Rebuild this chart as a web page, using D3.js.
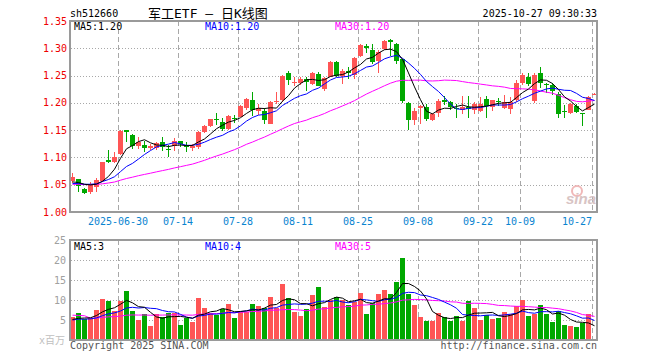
<!DOCTYPE html>
<html><head><meta charset="utf-8">
<script src="https://cdn.jsdelivr.net/npm/d3@7"></script>
<style>body{margin:0;background:#fff}svg{display:block}</style>
</head><body><svg id="c" width="660" height="360"></svg>
<script>
// ---------- data ----------
const dates = ["06-18","06-19","06-20","06-23","06-24","06-25","06-26","06-27","06-30","07-01","07-02","07-03","07-04","07-07","07-08","07-09","07-10","07-11","07-14","07-15","07-16","07-17","07-18","07-21","07-22","07-23","07-24","07-25","07-28","07-29","07-30","07-31","08-01","08-04","08-05","08-06","08-07","08-08","08-11","08-12","08-13","08-14","08-15","08-18","08-19","08-20","08-21","08-22","08-25","08-26","08-27","08-28","08-29","09-01","09-02","09-03","09-04","09-05","09-08","09-09","09-10","09-11","09-12","09-15","09-16","09-17","09-18","09-19","09-22","09-23","09-24","09-25","09-26","09-29","09-30","10-09","10-10","10-13","10-14","10-15","10-16","10-17","10-20","10-21","10-22","10-23","10-24","10-27"];
const open  = [1.056,1.060,1.043,1.037,1.046,1.057,1.095,1.092,1.106,1.150,1.141,1.121,1.123,1.118,1.118,1.128,1.116,1.121,1.130,1.122,1.118,1.120,1.147,1.158,1.170,1.165,1.152,1.173,1.175,1.190,1.205,1.185,1.185,1.162,1.203,1.205,1.254,1.236,1.236,1.243,1.235,1.253,1.225,1.248,1.274,1.250,1.258,1.251,1.285,1.305,1.296,1.277,1.299,1.315,1.308,1.280,1.200,1.169,1.191,1.192,1.169,1.181,1.205,1.201,1.191,1.186,1.193,1.186,1.185,1.207,1.193,1.203,1.191,1.189,1.205,1.236,1.247,1.204,1.254,1.235,1.233,1.216,1.185,1.182,1.195,1.181,1.187,1.215];
const high  = [1.071,1.061,1.044,1.055,1.062,1.092,1.114,1.110,1.150,1.151,1.143,1.137,1.130,1.124,1.128,1.137,1.123,1.135,1.131,1.128,1.124,1.149,1.160,1.171,1.181,1.172,1.178,1.177,1.196,1.209,1.219,1.198,1.190,1.204,1.220,1.251,1.259,1.247,1.248,1.247,1.256,1.256,1.247,1.276,1.276,1.262,1.265,1.284,1.308,1.308,1.308,1.296,1.315,1.317,1.310,1.281,1.202,1.190,1.196,1.198,1.182,1.207,1.213,1.204,1.198,1.213,1.213,1.201,1.210,1.213,1.206,1.208,1.215,1.211,1.242,1.254,1.254,1.254,1.265,1.236,1.236,1.219,1.196,1.200,1.198,1.181,1.213,1.218];
const low   = [1.053,1.037,1.033,1.033,1.037,1.055,1.090,1.089,1.104,1.129,1.115,1.115,1.110,1.113,1.113,1.112,1.101,1.112,1.119,1.110,1.112,1.115,1.145,1.156,1.159,1.148,1.150,1.163,1.174,1.187,1.176,1.177,1.161,1.161,1.198,1.202,1.233,1.231,1.233,1.221,1.233,1.230,1.222,1.247,1.248,1.235,1.243,1.243,1.284,1.292,1.272,1.254,1.297,1.285,1.272,1.199,1.150,1.159,1.162,1.167,1.167,1.175,1.196,1.187,1.172,1.180,1.173,1.180,1.183,1.172,1.185,1.195,1.188,1.180,1.202,1.233,1.231,1.200,1.227,1.218,1.214,1.172,1.173,1.180,1.181,1.157,1.186,1.214];
const close = [1.064,1.048,1.035,1.049,1.059,1.091,1.092,1.101,1.149,1.146,1.121,1.128,1.118,1.121,1.126,1.119,1.115,1.130,1.124,1.120,1.121,1.147,1.157,1.170,1.168,1.153,1.176,1.172,1.195,1.207,1.187,1.190,1.169,1.202,1.204,1.250,1.241,1.238,1.244,1.238,1.254,1.231,1.245,1.274,1.250,1.259,1.255,1.282,1.306,1.300,1.274,1.294,1.313,1.311,1.277,1.204,1.169,1.185,1.194,1.171,1.180,1.204,1.202,1.192,1.189,1.193,1.188,1.198,1.197,1.194,1.205,1.202,1.202,1.202,1.237,1.251,1.235,1.251,1.236,1.234,1.221,1.180,1.184,1.198,1.184,1.180,1.211,1.216];
const volume = [5.7,6.7,5.3,5.4,7.5,10.3,9.8,7.3,9.8,12.3,7.3,5.0,6.5,3.5,6.5,5.7,6.8,6.7,3.8,5.4,4.5,10.6,8.1,6.7,6.3,7.7,9.0,5.6,7.1,7.1,9.0,8.6,8.1,10.8,7.9,14.0,10.6,7.0,6.0,7.8,11.3,13.3,8.3,10.0,10.7,10.0,8.8,9.6,11.8,6.5,9.3,11.5,12.5,11.5,14.6,20.5,11.5,8.8,5.8,4.8,4.8,6.7,5.7,4.8,6.0,4.8,9.8,8.1,5.0,6.3,5.3,5.6,7.1,6.5,8.5,10.0,6.1,6.5,8.8,6.5,4.6,7.3,3.8,3.5,3.3,4.2,6.5,0.3];
// sessions before the visible window (estimated from the starting MA levels), used only for moving averages
const priorClose  = [1.048,1.052,1.047,1.051,1.055,1.049,1.046,1.050,1.053,1.048,1.045,1.049,1.054,1.052,1.050,1.047,1.051,1.055,1.049,1.050,1.046,1.050,1.048,1.052,1.049,1.054,1.051,1.055,1.052];
const priorVolume = [8.5,7.5,24.0,6.2,5.8,5.1,6.0,5.4,5.9,5.2,6.3,5.5,5.7,4.9,6.1,5.6,5.3,5.8,5.5,5.7,4.6,5.2,4.8,5.0,4.7,5.3,4.9,5.1,4.7];
const tickDates  = ["06-30","07-14","07-28","08-11","08-25","09-08","09-22","10-09","10-27"];
const tickLabels = ["2025-06-30","07-14","07-28","08-11","08-25","09-08","09-22","10-09","10-27"];
const priceTicks = [1.00,1.05,1.10,1.15,1.20,1.25,1.30,1.35];
const volTicks   = [5,10,15,20,25];
const maPeriods  = [5,10,30];
const maColors   = ["#000000","#0000ff","#ff00ff"];

// ---------- helpers ----------
function movingAvg(prior, vals, n){
  const all = prior.concat(vals), off = prior.length;
  return vals.map((_, i) => d3.mean(all.slice(off + i - n + 1, off + i + 1)));
}
const idx = d3.range(dates.length);
const svg = d3.select("#c");
const MONO = "'DejaVu Sans Mono', monospace";
const RED = "#ff5555", GREEN = "#00a800", GRID = "#a8a8a8", FRAME = "#9a9a9a";

const x = d3.scaleBand().domain(idx).range([70, 598]);
const cx = i => x(i) + 2.5;
const y = d3.scaleLinear().domain([1.00, 1.35]).range([212, 21]);
const yv = d3.scaleLinear().domain([0, 25]).range([340, 240]);
const up = i => close[i] >= open[i];

// ---------- header ----------
svg.append("text").attr("x", 70).attr("y", 16.5).attr("font-family", MONO).attr("font-size", 10).attr("fill", "#000").text("sh512660");
svg.append("text").attr("x", 148).attr("y", 18).attr("font-family", "'DejaVu Sans Mono','Noto Sans CJK SC',monospace").attr("font-size", 13).attr("fill", "#000").text("军工ETF — 日K线图");
svg.append("text").attr("x", 597).attr("y", 16.5).attr("text-anchor", "end").attr("font-family", MONO).attr("font-size", 10).attr("fill", "#000").text("2025-10-27 09:30:33");

// ---------- grids ----------
function drawPanel(top, bottom, yScale, hTicks){
  const g = svg.append("g");
  g.selectAll("line.h").data(hTicks).join("line")
    .attr("x1", 71).attr("x2", 596).attr("y1", d => Math.round(yScale(d)) + 0.5).attr("y2", d => Math.round(yScale(d)) + 0.5)
    .attr("stroke", GRID).attr("stroke-dasharray", "1,2");
  g.selectAll("line.v").data(tickDates).join("line")
    .attr("x1", d => x(dates.indexOf(d)) + 0.5).attr("x2", d => x(dates.indexOf(d)) + 0.5)
    .attr("y1", top).attr("y2", bottom)
    .attr("stroke", GRID).attr("stroke-dasharray", "5,3");
  return g;
}
drawPanel(21, 212, y, priceTicks.filter(d => d > 1.0 && d < 1.35));
drawPanel(240, 340, yv, volTicks.filter(d => d < 25));

// ---------- candles ----------
const cg = svg.append("g").attr("shape-rendering", "crispEdges");
cg.selectAll("line.w").data(idx).join("line")
  .attr("x1", i => cx(i)).attr("x2", i => cx(i))
  .attr("y1", i => y(high[i])).attr("y2", i => y(low[i]))
  .attr("stroke", i => up(i) ? RED : GREEN).attr("stroke-width", 1);
cg.selectAll("rect").data(idx).join("rect")
  .attr("x", i => x(i)).attr("width", 5)
  .attr("y", i => y(Math.max(open[i], close[i])))
  .attr("height", i => Math.max(1, Math.abs(y(open[i]) - y(close[i]))))
  .attr("fill", i => up(i) ? RED : GREEN);

// ---------- volume bars ----------
svg.append("g").attr("shape-rendering", "crispEdges").selectAll("rect").data(idx).join("rect")
  .attr("x", i => x(i)).attr("width", 5)
  .attr("y", i => yv(volume[i])).attr("height", i => yv(0) - yv(volume[i]))
  .attr("fill", i => up(i) ? RED : GREEN);

// ---------- MA lines ----------
const priceMA = maPeriods.map(n => movingAvg(priorClose, close, n));
const volMA = maPeriods.map(n => movingAvg(priorVolume, volume, n));
svg.append("clipPath").attr("id", "cp").append("rect").attr("x", 71).attr("y", 22).attr("width", 525).attr("height", 189);
svg.append("clipPath").attr("id", "cv").append("rect").attr("x", 71).attr("y", 241).attr("width", 525).attr("height", 98);
const lp = d3.line().x((d, i) => cx(i)).y(d => y(d));
const lv = d3.line().x((d, i) => cx(i)).y(d => yv(d));
const mg = svg.append("g").attr("clip-path", "url(#cp)");
priceMA.slice().reverse().forEach((arr, k) => {
  const c = maColors[maColors.length - 1 - k];
  mg.append("path").attr("d", lp(arr)).attr("fill", "none").attr("stroke", c).attr("stroke-width", 1);
});
const vg = svg.append("g").attr("clip-path", "url(#cv)");
volMA.slice().reverse().forEach((arr, k) => {
  const c = maColors[maColors.length - 1 - k];
  vg.append("path").attr("d", lv(arr)).attr("fill", "none").attr("stroke", c).attr("stroke-width", 1);
});

// ---------- frames ----------
[[21, 212], [240, 340]].forEach(([t, b]) => {
  svg.append("rect").attr("x", 70).attr("y", t).attr("width", 527).attr("height", b - t)
    .attr("fill", "none").attr("stroke", FRAME).attr("stroke-width", 2);
});

// ---------- axes labels ----------
svg.append("g").selectAll("text").data(priceTicks).join("text")
  .attr("x", 67).attr("y", d => y(d)).attr("dy", "0.35em").attr("text-anchor", "end")
  .attr("font-family", MONO).attr("font-size", 10).attr("fill", "#ee0000").text(d => d.toFixed(2));
svg.append("g").selectAll("text").data(tickDates).join("text")
  .attr("x", d => x(dates.indexOf(d)))
  .attr("y", 225)
  .attr("text-anchor", (d, k) => k === tickDates.length - 1 ? "end" : "middle")
  .attr("font-family", MONO).attr("font-size", 10).attr("fill", "#0a84d0").text((d, k) => tickLabels[k]);
svg.append("g").selectAll("text").data(volTicks).join("text")
  .attr("x", 66).attr("y", d => yv(d)).attr("dy", "0.35em").attr("text-anchor", "end")
  .attr("font-family", MONO).attr("font-size", 10).attr("fill", "#a0a0a0").text(d => d);
svg.append("text").attr("x", 39).attr("y", 344).attr("font-family", "'DejaVu Sans Mono','Noto Sans CJK SC',monospace").attr("font-size", 10).attr("fill", "#c0c0c0").text("x百万");

// ---------- MA legends ----------
const legX = [74, 205, 335];
const last = a => a[a.length - 1];
maPeriods.forEach((n, k) => {
  svg.append("text").attr("x", legX[k]).attr("y", 30).attr("font-family", MONO).attr("font-size", 10).attr("fill", maColors[k])
    .text(`MA${n}:${last(priceMA[k]).toFixed(2)}`);
  svg.append("text").attr("x", legX[k]).attr("y", 249.5).attr("font-family", MONO).attr("font-size", 10).attr("fill", maColors[k])
    .text(`MA${n}:${Math.floor(last(volMA[k]))}`);
});

// ---------- footer & watermark ----------
svg.append("text").attr("x", 70).attr("y", 349).attr("font-family", MONO).attr("font-size", 10).attr("fill", "#555").text("Copyright 2025 SINA.COM");
svg.append("text").attr("x", 597).attr("y", 349).attr("text-anchor", "end").attr("font-family", MONO).attr("font-size", 10).attr("fill", "#555").text("http://finance.sina.com.cn");
svg.append("circle").attr("cx", 577).attr("cy", 191).attr("r", 5).attr("fill", "none").attr("stroke", "#f0b8b8").attr("stroke-width", 2);
svg.append("text").attr("x", 566).attr("y", 204).attr("font-family", "Arial, 'Liberation Sans', sans-serif").attr("font-style", "italic").attr("font-weight", "bold").attr("font-size", 15).attr("fill", "#d8c4c4").text("sina");
</script></body></html>
